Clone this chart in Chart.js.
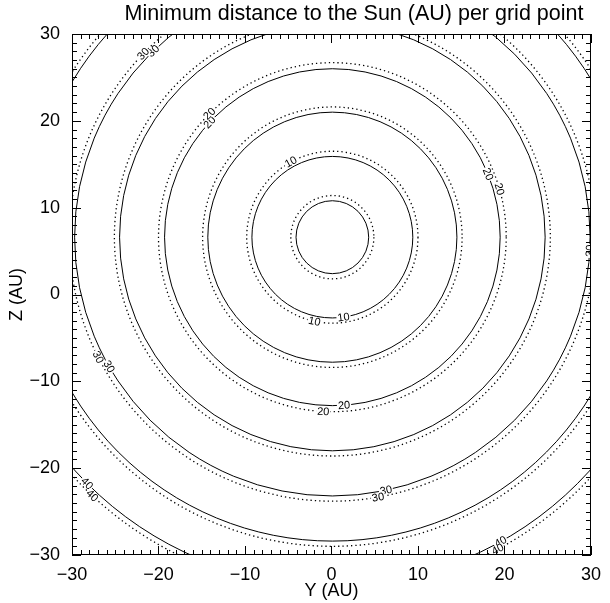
<!DOCTYPE html>
<html>
<head>
  <title>Minimum distance to the Sun</title>
  <script src="https://cdn.jsdelivr.net/npm/chart.js"></script>
  <style>
    html, body { margin: 0; padding: 0; background: #fff; }
    #wrap { width: 610px; height: 603px; }
  </style>
</head>
<body>
  <div id="wrap"><canvas id="contourChart" width="610" height="603"></canvas></div>
  <script>
  // contour levels (AU) and the ring radii (AU)
  const levels = [5, 10, 15, 20, 25, 30, 35, 40];
  const solidRadii = [4.2, 9.3, 14.4, 19.4, 24.6, 29.8, 35.0, 40.1];
  const dottedRadii = [4.8, 9.9, 15.0, 20.1, 25.2, 30.4, 35.6, 40.7];
  const ringCenterY = 0.1;
  const ringCenterZ = 6.6;
  const axisTicks = [-30, -20, -10, 0, 10, 20, 30];

  // contour labels: [level, angle on ring in degrees]
  const solidLabels = [[10, -82], [20, -86], [20, 137], [20, 22], [30, 134], [30, -150], [30, -78], [30, -3], [40, -135], [40, -61]];
  const dottedLabels = [[10, -102], [10, 119], [20, -93], [20, 135], [20, 16], [30, 136], [30, -153], [30, -80], [30, -2], [40, -133], [40, -62]];

  const FONT = "'Liberation Sans', Arial, sans-serif";

  const contourPlugin = {
    id: 'contours',
    afterDatasetsDraw(chart) {
      const ctx = chart.ctx;
      const xs = chart.scales.x, ys = chart.scales.y;
      const area = chart.chartArea;
      const cx = xs.getPixelForValue(ringCenterY);
      const cy = ys.getPixelForValue(ringCenterZ);

      function ring(r, dotted) {
        const rx = xs.getPixelForValue(ringCenterY + r) - cx;
        const ry = cy - ys.getPixelForValue(ringCenterZ + r);
        ctx.beginPath();
        ctx.ellipse(cx, cy, rx, ry, 0, 0, Math.PI * 2);
        ctx.setLineDash(dotted ? [1.3, 3] : []);
        ctx.lineWidth = dotted ? 1.3 : 1;
        ctx.stroke();
      }

      function label(r, lvl, deg) {
        const t = deg * Math.PI / 180;
        const px = xs.getPixelForValue(ringCenterY + r * Math.cos(t));
        const py = ys.getPixelForValue(ringCenterZ + r * Math.sin(t));
        let a = Math.atan2(-Math.cos(t), -Math.sin(t));
        if (a > Math.PI / 2) a -= Math.PI;
        if (a < -Math.PI / 2) a += Math.PI;
        ctx.save();
        ctx.translate(px, py);
        ctx.rotate(a);
        ctx.font = '11px ' + FONT;
        const w = ctx.measureText(String(lvl)).width;
        ctx.fillStyle = '#fff';
        ctx.fillRect(-w / 2 - 1, -4, w + 2, 8);
        ctx.fillStyle = '#000';
        ctx.textAlign = 'center';
        ctx.textBaseline = 'middle';
        ctx.fillText(String(lvl), 0, 0.5);
        ctx.restore();
      }

      ctx.save();
      ctx.beginPath();
      ctx.rect(area.left, area.top, area.right - area.left, area.bottom - area.top);
      ctx.clip();
      ctx.strokeStyle = '#000';
      levels.forEach((lvl, i) => {
        ring(solidRadii[i], false);
        ring(dottedRadii[i], true);
      });
      ctx.setLineDash([]);
      solidLabels.forEach(([lvl, deg]) => label(solidRadii[levels.indexOf(lvl)], lvl, deg));
      dottedLabels.forEach(([lvl, deg]) => label(dottedRadii[levels.indexOf(lvl)], lvl, deg));
      ctx.restore();
    },
    afterDraw(chart) {
      const ctx = chart.ctx;
      const xs = chart.scales.x, ys = chart.scales.y;
      const a = chart.chartArea;
      ctx.save();
      ctx.strokeStyle = '#000';
      ctx.lineWidth = 1;
      ctx.strokeRect(a.left + 0.5, a.top + 0.5, a.right - a.left - 1, a.bottom - a.top - 1);
      ctx.beginPath();
      for (let v = -30; v <= 30; v++) {
        const len = v % 10 === 0 ? 9 : 5;
        const x = Math.round(xs.getPixelForValue(v)) + 0.5;
        ctx.moveTo(x, a.bottom); ctx.lineTo(x, a.bottom - len);
        ctx.moveTo(x, a.top); ctx.lineTo(x, a.top + len);
        const y = Math.round(ys.getPixelForValue(v)) + 0.5;
        ctx.moveTo(a.left, y); ctx.lineTo(a.left + len, y);
        ctx.moveTo(a.right, y); ctx.lineTo(a.right - len, y);
      }
      ctx.stroke();
      // title
      ctx.fillStyle = '#000';
      ctx.font = '21.5px ' + FONT;
      ctx.textAlign = 'center';
      ctx.textBaseline = 'middle';
      ctx.fillText('Minimum distance to the Sun (AU) per grid point', 354, 14);
      ctx.restore();
    }
  };

  const tickFmt = v => axisTicks.includes(v) ? String(v).replace('-', '\u2212') : '';

  const chart = new Chart(document.getElementById('contourChart'), {
    type: 'scatter',
    data: { datasets: [{ data: [], pointRadius: 0 }] },
    options: {
      responsive: false,
      animation: false,
      layout: { padding: { top: 34, right: 13, left: 0, bottom: 0 } },
      plugins: { legend: { display: false }, tooltip: { enabled: false } },
      scales: {
        x: {
          type: 'linear', min: -30, max: 30,
          grid: { display: false, drawTicks: false },
          border: { display: false },
          ticks: { stepSize: 10, color: '#000', padding: 9, maxRotation: 0, font: { family: FONT, size: 18 }, callback: tickFmt },
          title: { display: true, text: 'Y (AU)', color: '#000', padding: { top: 0, bottom: 1 }, font: { family: FONT, size: 18 } },
          afterFit(s) { s.height = 48; }
        },
        y: {
          type: 'linear', min: -30, max: 30,
          grid: { display: false, drawTicks: false },
          border: { display: false },
          ticks: { stepSize: 10, color: '#000', padding: 12, font: { family: FONT, size: 18 }, callback: tickFmt },
          title: { display: true, text: 'Z (AU)', color: '#000', padding: { top: 6, bottom: 0 }, font: { family: FONT, size: 18 } },
          afterFit(s) { s.width = 72; }
        }
      }
    },
    plugins: [contourPlugin]
  });
  </script>
</body>
</html>
